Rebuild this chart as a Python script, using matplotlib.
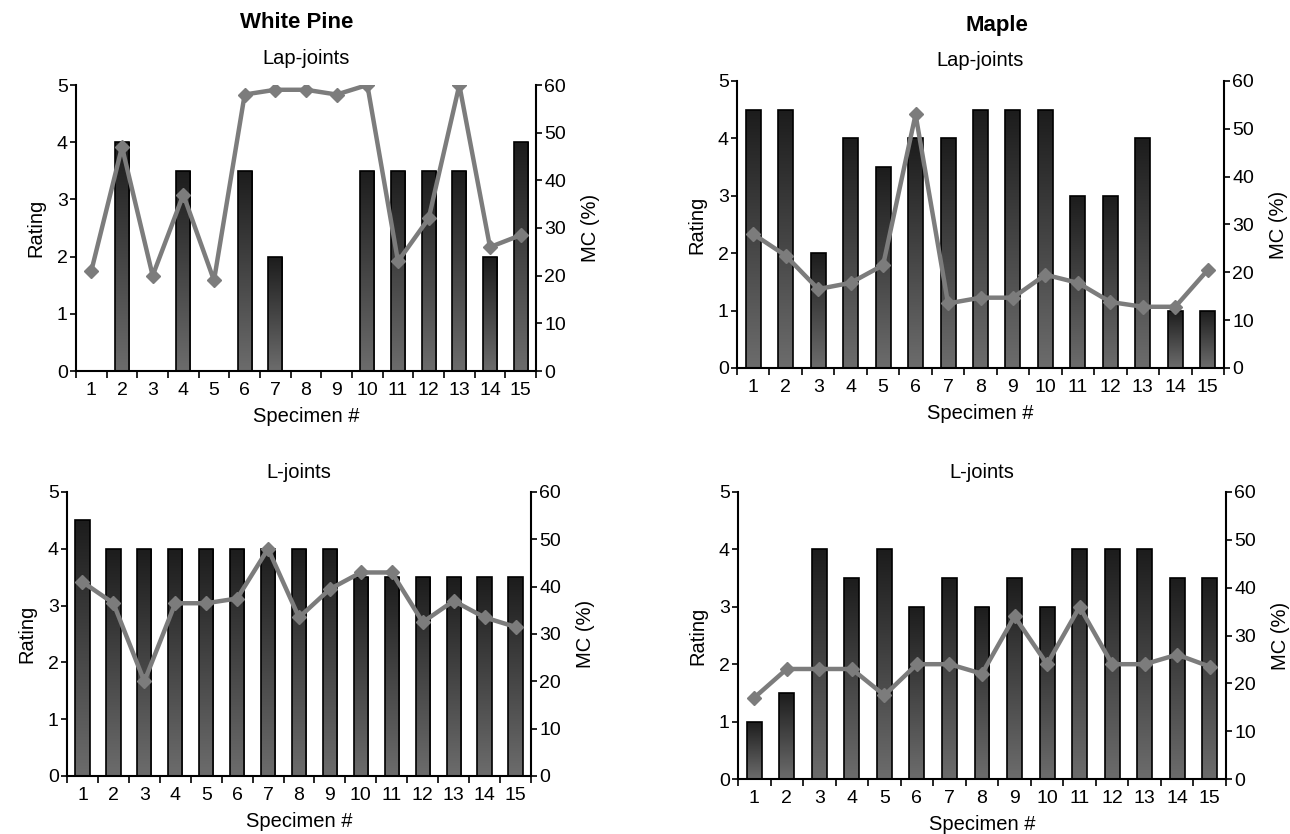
import numpy as np
import matplotlib
matplotlib.use('Agg')
import matplotlib.pyplot as plt
from matplotlib.colors import LinearSegmentedColormap

plt.rcParams['font.family'] = ['Liberation Sans', 'DejaVu Sans']

specimens = list(range(1, 16))

# White Pine
wp_lap_rating = [0, 4, 0, 3.5, 0, 3.5, 2, 0, 0, 3.5, 3.5, 3.5, 3.5, 2, 4]
wp_lap_mc = [21, 47, 20, 37, 19, 58, 59, 59, 58, 60, 23, 32, 60, 26, 28.5]
wp_l_rating = [4.5, 4, 4, 4, 4, 4, 4, 4, 4, 3.5, 3.5, 3.5, 3.5, 3.5, 3.5]
wp_l_mc = [41, 36.5, 20, 36.5, 36.5, 37.5, 48, 33.5, 39.5, 43, 43, 32.5, 37, 33.5, 31.5]

# Maple
mp_lap_rating = [4.5, 4.5, 2, 4, 3.5, 4, 4, 4.5, 4.5, 4.5, 3, 3, 4, 1, 1]
mp_lap_mc = [28, 23.5, 16.5, 17.8, 21.5, 53, 13.5, 14.7, 14.7, 19.5, 17.8, 13.8, 12.8, 12.8, 20.5]
mp_l_rating = [1, 1.5, 4, 3.5, 4, 3, 3.5, 3, 3.5, 3, 4, 4, 4, 3.5, 3.5]
mp_l_mc = [17, 23, 23, 23, 17.5, 24, 24, 22, 34, 24, 36, 24, 24, 26, 23.5]

bar_cmap = LinearSegmentedColormap.from_list('bar', ['#6c6c6c', '#1c1c1c'])
line_color = '#7c7c7c'
TICK_FS = 14
LABEL_FS = 14.5

fig = plt.figure(figsize=(12.9, 8.34), dpi=100)


def panel(rect, ratings, mc, subtitle, sub_y):
    ax = fig.add_axes(rect)
    x = np.array(specimens)
    w = 0.46
    bars = ax.bar(x, ratings, width=w, color='none', edgecolor='black',
                  linewidth=1.2, zorder=3)
    grad = np.linspace(0, 1, 256).reshape(-1, 1)
    for xi, h, b in zip(x, ratings, bars):
        if h <= 0:
            continue
        im = ax.imshow(grad, cmap=bar_cmap, aspect='auto', origin='lower',
                       extent=[xi - w / 2, xi + w / 2, 0, h], zorder=2)
        im.set_clip_path(b)
    ax.set_xlim(0.5, 15.5)
    ax.set_ylim(0, 5)
    ax.set_yticks(range(6))
    ax.set_xticks(x)
    ax.set_xticks(np.arange(0.5, 16, 1), minor=True)
    ax.tick_params(axis='x', which='major', length=0, labelsize=TICK_FS, pad=8)
    ax.tick_params(axis='x', which='minor', length=5, width=1.2, direction='out')
    ax.tick_params(axis='y', length=4, width=1.2, labelsize=TICK_FS, pad=2)
    ax.spines['top'].set_visible(False)
    ax.spines['right'].set_visible(False)
    for s in ['left', 'bottom']:
        ax.spines[s].set_linewidth(1.5)
    ax.set_xlabel('Specimen #', fontsize=LABEL_FS, labelpad=6)
    ax.set_ylabel('Rating', fontsize=LABEL_FS, labelpad=8)

    ax2 = ax.twinx()
    ax2.plot(x, mc, color=line_color, linewidth=3.2, marker='D',
             markersize=7, zorder=4)
    ax2.set_ylim(0, 60)
    ax2.set_yticks(range(0, 61, 10))
    ax2.tick_params(axis='y', length=4, width=1.2, labelsize=TICK_FS, pad=2)
    for s in ['top', 'left', 'bottom']:
        ax2.spines[s].set_visible(False)
    ax2.spines['right'].set_linewidth(1.5)
    ax2.set_ylabel('MC (%)', fontsize=LABEL_FS, labelpad=11)

    cx = rect[0] + rect[2] / 2
    fig.text(cx, sub_y, subtitle, ha='center', va='center', fontsize=14.5)
    return ax


W, H = 1290, 834


def rect(l, r, b, t):
    return [l / W, 1 - b / H, (r - l) / W, (b - t) / H]


panel(rect(76, 536, 371, 85), wp_lap_rating, wp_lap_mc, 'Lap-joints', 1 - 58 / H)
panel(rect(737, 1224, 368, 81), mp_lap_rating, mp_lap_mc, 'Lap-joints', 1 - 61 / H)
panel(rect(67, 531, 776, 492), wp_l_rating, wp_l_mc, 'L-joints', 1 - 472 / H)
panel(rect(738, 1226, 779, 492), mp_l_rating, mp_l_mc, 'L-joints', 1 - 473 / H)

fig.text(297 / W, 1 - 23 / H, 'White Pine', ha='center', va='center',
         fontsize=16, fontweight='bold')
fig.text(997 / W, 1 - 26 / H, 'Maple', ha='center', va='center',
         fontsize=16, fontweight='bold')

fig.savefig('out.png', dpi=100, facecolor='white')
